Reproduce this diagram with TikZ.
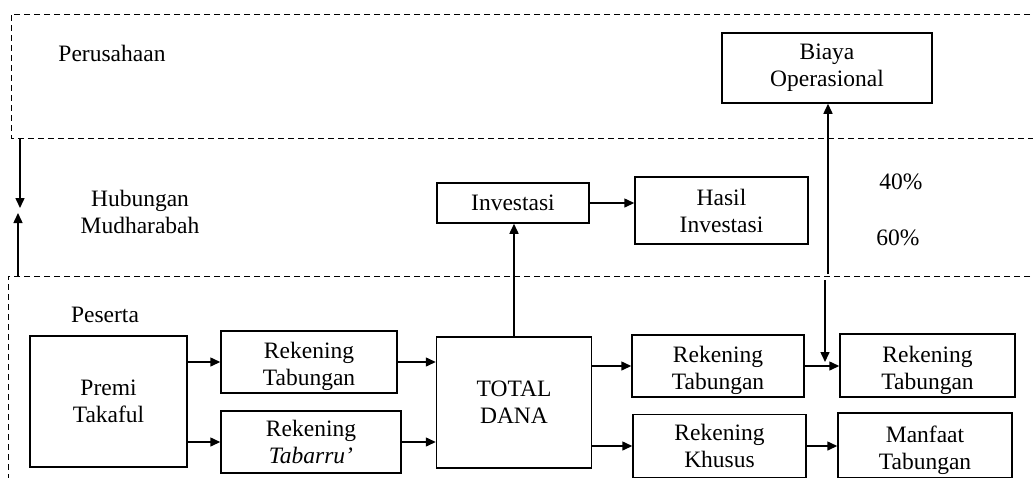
\documentclass[tikz,border=0pt]{standalone}
\usepackage{fontspec}
\setmainfont{Liberation Serif}
\usetikzlibrary{arrows.meta}
\tikzset{
    >={Triangle[length=5pt,width=4.5pt]},
    kotak/.style={draw, align=center, inner sep=1pt},
    turun/.style={text height=26.5pt},
    wilayah/.style={densely dashed, line width=0.5pt},
}

\begin{document}
\begin{tikzpicture}[x=0.5pt, y=-0.5pt, line width=0.75pt, font=\fontsize{11.75}{13.5}\selectfont]
        \useasboundingbox (0,0) rectangle (1033,477);
        \clip (0,0) rectangle (1033,477);
        \draw[wilayah] (1040,14) -- (11,14) -- (11,138) -- (1040,138);
        \draw[wilayah] (1040,276) -- (8,276) -- (8,490);
        \node (perusahaan) at (112,53) {Perusahaan};
        \node[align=center] (hubungan) at (140,212) {Hubungan\\Mudharabah};
        \node (peserta) at (105,315) {Peserta};
        \node (empatpuluh) at (901,182) {40\%};
        \node (enampuluh) at (898,238) {60\%};
        \node[kotak, minimum width=105pt, minimum height=35pt] (biaya) at (827,68) {Biaya\\Operasional};
        \node[kotak, minimum width=76pt, minimum height=20pt] (investasi) at (513,203) {Investasi};
        \node[kotak, minimum width=86.5pt, minimum height=33.5pt] (hasil) at (721.5,210.5) {Hasil\\Investasi};
        \node[kotak, minimum width=78.5pt, minimum height=65.5pt] (premi) at (108.5,401.5) {Premi\\Takaful};
        \node[kotak, turun, minimum width=88pt, minimum height=31pt] (tabkiri) at (309,362) {Rekening\\Tabungan};
        \node[kotak, minimum width=90pt, minimum height=31pt] (tabarru) at (311,442) {Rekening\\\textit{Tabarru'}};
        \node[kotak, minimum width=77.5pt, minimum height=65.5pt] (total) at (514,402.5) {TOTAL\\DANA};
        \node[kotak, turun, minimum width=86pt, minimum height=31pt] (tabtengah) at (718,366) {Rekening\\Tabungan};
        \node[kotak, minimum width=86.5pt, minimum height=31.5pt] (khusus) at (719.5,446) {Rekening\\Khusus};
        \node[kotak, turun, minimum width=87.5pt, minimum height=31.5pt] (tabkanan) at (927.5,365.5) {Rekening\\Tabungan};
        \node[kotak, turun, minimum width=87pt, minimum height=32.5pt] (manfaat) at (925,445.5) {Manfaat\\Tabungan};
        \coordinate (turunatas) at (20,138);
        \coordinate (turunbawah) at (20,208);
        \coordinate (naikbawah) at (18,276);
        \coordinate (naikatas) at (18,213);
        \coordinate (bagiatas) at (828,274);
        \coordinate (bagibawah) at (825,280);
        \coordinate (bagiujung) at (825,362);
        \draw[->] (turunatas) -- (turunbawah);
        \draw[->] (naikbawah) -- (naikatas);
        \draw[->] (bagiatas) -- (bagiatas |- biaya.south);
        \draw[->] (bagibawah) -- (bagiujung);
        \draw[->] (total.north) -- (total.north |- investasi.south);
        \draw[->] (investasi.east) -- (investasi.east -| hasil.west);
        \draw[->] (premi.east |- tabkiri.west) -- (tabkiri.west);
        \draw[->] (premi.east |- tabarru.west) -- (tabarru.west);
        \draw[->] (tabkiri.east) -- (tabkiri.east -| total.west);
        \draw[->] (tabarru.east) -- (tabarru.east -| total.west);
        \draw[->] (total.east |- tabtengah.west) -- (tabtengah.west);
        \draw[->] (total.east |- khusus.west) -- (khusus.west);
        \draw[->] (tabtengah.east) -- (tabtengah.east -| tabkanan.west);
        \draw[->] (khusus.east) -- (khusus.east -| manfaat.west);
    \end{tikzpicture}
\end{document}
